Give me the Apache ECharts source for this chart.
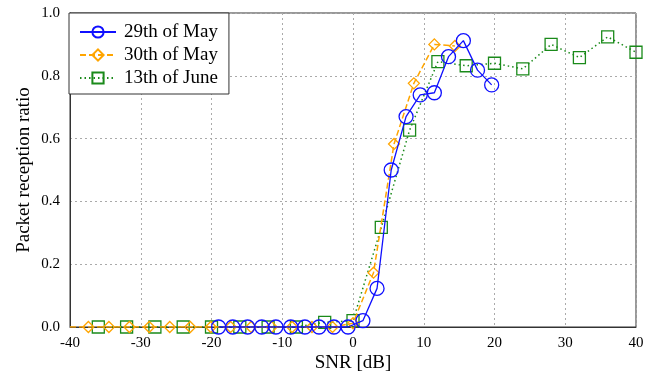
<!DOCTYPE html>
<html>
<head>
<meta charset="utf-8">
<script src="https://cdn.jsdelivr.net/npm/echarts@6/dist/echarts.min.js"></script>
<style>
  html, body { margin: 0; padding: 0; background: #fff; }
  #chart { width: 658px; height: 375px; }
</style>
</head>
<body>
<div id="chart"></div>
<script>
// SNR (dB) and packet reception ratio for each measurement day
const snrMay29 = [-19.0, -17.0, -14.9, -12.9, -10.9, -8.8, -6.8, -4.8, -2.7, -0.7,
                  1.4, 3.4, 5.4, 7.5, 9.5, 11.5, 13.5, 15.6, 17.6, 19.6];
const prrMay29 = [0, 0, 0, 0, 0, 0, 0, 0, 0, 0,
                  0.02, 0.123, 0.50, 0.67, 0.739, 0.746, 0.861, 0.912, 0.818, 0.771];

const snrMay30 = [-40, -37.4, -34.5, -31.6, -28.8, -25.9, -23.0, -20.1, -17.3, -14.4,
                  -11.5, -8.6, -5.8, -2.9, 0, 2.9, 5.8, 8.6, 11.5, 14.4];
const prrMay30 = [0, 0, 0, 0, 0, 0, 0, 0, 0, 0,
                  0, 0, 0, 0, 0.012, 0.173, 0.583, 0.776, 0.900, 0.895];

const snrJun13 = [-36, -32, -28, -24, -20, -16, -12, -8, -4, 0,
                  4, 8, 12, 16, 20, 24, 28, 32, 36, 40];
const prrJun13 = [0, 0, 0, 0, 0, 0, 0, 0, 0.015, 0.02,
                  0.317, 0.627, 0.845, 0.832, 0.840, 0.822, 0.900, 0.858, 0.924, 0.875];

const xTicks = { min: -40, max: 40, step: 10 };
const yTicks = { min: 0, max: 1, step: 0.2 };

const seriesNames = ['29th of May', '30th of May', '13th of June'];

const pair = (xs, ys) => xs.map((x, i) => [x, ys[i]]);

const font = 'Liberation Serif, Times New Roman, serif';

const chart = echarts.init(document.getElementById('chart'), null, { renderer: 'canvas' });

// the first point of the 30th of May run sits on the axis edge with no marker
const may30Data = pair(snrMay30, prrMay30).map((p, i) =>
  i === 0 ? { value: p, symbol: 'none' } : p);

chart.setOption({
  animation: false,
  backgroundColor: '#fff',
  grid: {
    left: 70, right: 22, top: 13, bottom: 48,
    containLabel: false, outerBoundsMode: 'none',
    show: true, borderColor: '#333', borderWidth: 1, backgroundColor: 'transparent'
  },
  legend: {
    orient: 'vertical',
    left: 69, top: 13,
    itemWidth: 36, itemHeight: 14, itemGap: 3,
    padding: [9, 11, 6, 10],
    backgroundColor: '#fff',
    borderColor: '#333', borderWidth: 1,
    borderRadius: 0,
    textStyle: { fontFamily: font, fontSize: 19, lineHeight: 20, color: '#000',
                 padding: [0, 0, 0, 3] },
    data: seriesNames
  },
  xAxis: {
    type: 'value',
    min: xTicks.min, max: xTicks.max, interval: xTicks.step,
    name: 'SNR [dB]', nameLocation: 'middle', nameGap: 27, nameMoveOverlap: false,
    nameTextStyle: { fontFamily: font, fontSize: 19, color: '#000' },
    axisLine: { show: true, onZero: false, lineStyle: { color: '#333', width: 1 } },
    axisTick: { show: false },
    axisLabel: { fontFamily: font, fontSize: 15, color: '#000', margin: 9 },
    splitLine: { show: true, lineStyle: { color: '#aaa', type: [2, 3], width: 1 } }
  },
  yAxis: {
    type: 'value',
    min: yTicks.min, max: yTicks.max, interval: yTicks.step,
    name: 'Packet reception ratio', nameLocation: 'middle', nameGap: 36, nameMoveOverlap: false,
    nameTextStyle: { fontFamily: font, fontSize: 19, color: '#000' },
    axisLine: { show: true, onZero: false, lineStyle: { color: '#333', width: 1 } },
    axisTick: { show: false },
    axisLabel: { fontFamily: font, fontSize: 15, color: '#000', margin: 10,
                 formatter: v => v.toFixed(1) },
    splitLine: { show: true, lineStyle: { color: '#aaa', type: [2, 3], width: 1 } }
  },
  series: [
    {
      name: seriesNames[0], type: 'line', z: 4,
      data: pair(snrMay29, prrMay29),
      symbol: 'circle', symbolSize: 14,
      color: '#1010ff',
      lineStyle: { color: '#1010ff', width: 1.3, type: 'solid' },
      itemStyle: { color: 'transparent', borderColor: '#1010ff', borderWidth: 1.3 }
    },
    {
      name: seriesNames[1], type: 'line', z: 3,
      data: may30Data,
      symbol: 'diamond', symbolSize: 11,
      color: '#ffa500',
      lineStyle: { color: '#ffa500', width: 1.5, type: [6, 3] },
      itemStyle: { color: 'transparent', borderColor: '#ffa500', borderWidth: 1.3 }
    },
    {
      name: seriesNames[2], type: 'line', z: 2,
      data: pair(snrJun13, prrJun13),
      symbol: 'rect', symbolSize: 12,
      color: '#1a8a1a',
      lineStyle: { color: '#1a8a1a', width: 1.5, type: [1.5, 3] },
      itemStyle: { color: 'transparent', borderColor: '#1a8a1a', borderWidth: 1.3 }
    }
  ]
});
</script>
</body>
</html>
